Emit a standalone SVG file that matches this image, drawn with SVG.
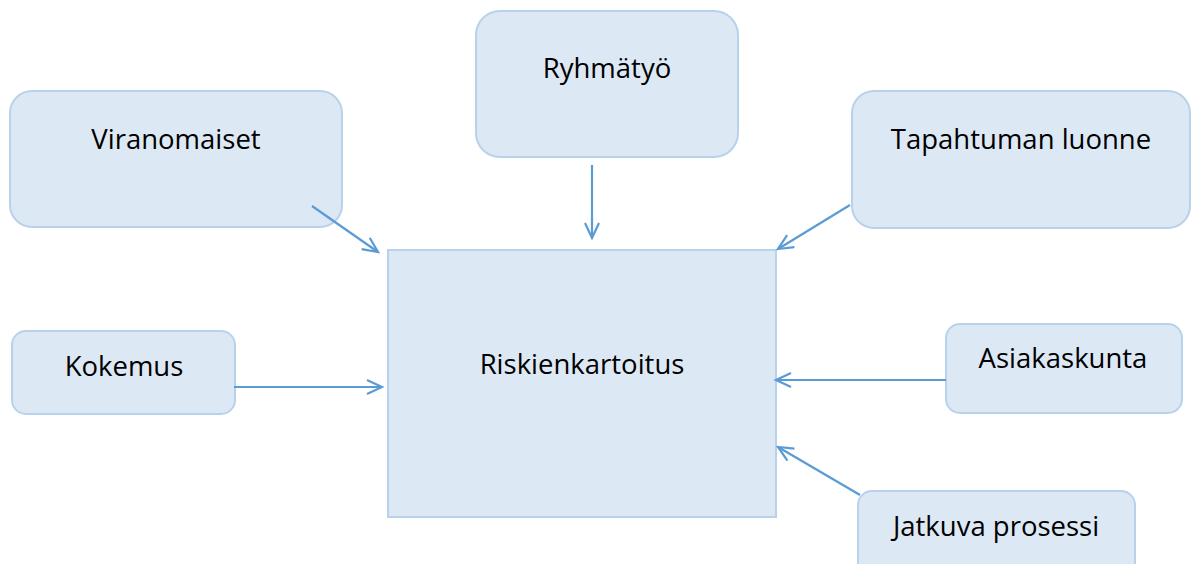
<svg xmlns="http://www.w3.org/2000/svg" width="1197" height="564" viewBox="0 0 1197 564">
<style>
.box{fill:#dde8f5;stroke:#b8d2ec;stroke-width:2}
.lbl{font-family:"Open Sans","Noto Sans",sans-serif;font-size:27.5px;fill:#000;text-anchor:middle}
.con{stroke:#5b9bd5;stroke-width:2.2;fill:none;marker-end:url(#ah)}
</style>
<defs>
<marker id="ah" markerWidth="20" markerHeight="20" refX="16" refY="8" orient="auto" markerUnits="userSpaceOnUse">
<path d="M1,1 L16,8 L1,15" fill="none" stroke="#5b9bd5" stroke-width="2.2"/>
</marker>
</defs>
<rect width="1197" height="564" fill="#fff"/>
<g id="viranomaiset"><rect class="box" x="10" y="91" width="332" height="136" rx="22"/><text class="lbl" x="176" y="149">Viranomaiset</text></g>
<g id="ryhmatyo"><rect class="box" x="476" y="11" width="262" height="146" rx="24"/><text class="lbl" x="607" y="78">Ryhmätyö</text></g>
<g id="tapahtuman"><rect class="box" x="852" y="91" width="338" height="137" rx="22"/><text class="lbl" x="1021" y="149">Tapahtuman luonne</text></g>
<g id="kokemus"><rect class="box" x="12" y="331" width="223" height="83" rx="14"/><text class="lbl" x="124" y="376">Kokemus</text></g>
<g id="riskienkartoitus"><rect class="box" x="388" y="250" width="388" height="267" rx="0"/><text class="lbl" x="582" y="374">Riskienkartoitus</text></g>
<g id="asiakaskunta"><rect class="box" x="946" y="324" width="236" height="89" rx="14"/><text class="lbl" x="1063" y="368">Asiakaskunta</text></g>
<g id="jatkuva"><rect class="box" x="858" y="491" width="277" height="90" rx="14"/><text class="lbl" x="996" y="536">Jatkuva prosessi</text></g>
<g id="connectors">
<line class="con" x1="312" y1="206" x2="378" y2="252"/>
<line class="con" x1="592" y1="165" x2="592" y2="238"/>
<line class="con" x1="850" y1="205" x2="778" y2="249"/>
<line class="con" x1="234" y1="387" x2="382" y2="387"/>
<line class="con" x1="946" y1="380" x2="776" y2="380"/>
<line class="con" x1="860" y1="495" x2="778" y2="447"/>
</g>
</svg>
